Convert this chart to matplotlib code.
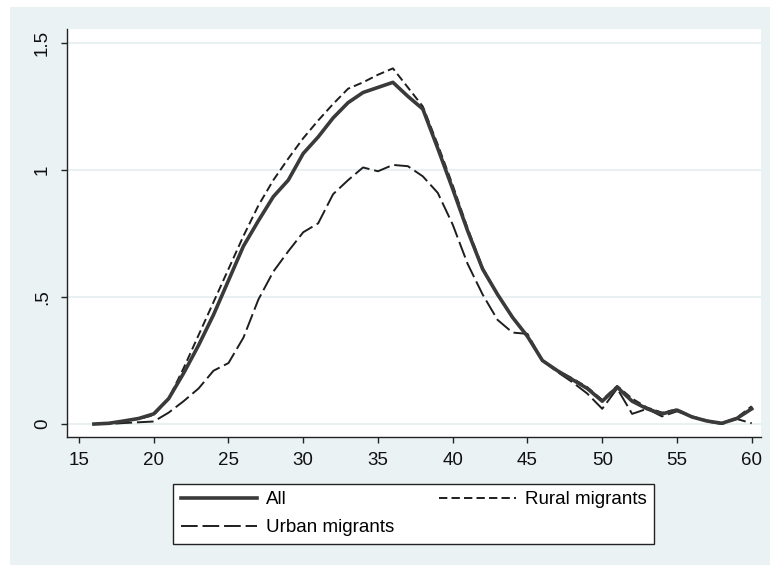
import matplotlib
matplotlib.use("Agg")
import matplotlib.pyplot as plt
from matplotlib.patches import Rectangle

plt.rcParams['font.family'] = ['Liberation Sans', 'DejaVu Sans']
plt.rcParams['lines.scale_dashes'] = False

# Age profile by migrant group
ages = list(range(16, 61))
all_migrants = [0.000, 0.003, 0.012, 0.022, 0.040,
                0.100, 0.200, 0.310, 0.430, 0.565,
                0.700, 0.800, 0.895, 0.960, 1.065,
                1.130, 1.205, 1.265, 1.305, 1.325,
                1.345, 1.290, 1.240, 1.085, 0.925,
                0.760, 0.610, 0.510, 0.420, 0.345,
                0.250, 0.210, 0.175, 0.140, 0.090,
                0.145, 0.090, 0.060, 0.040, 0.055,
                0.028, 0.012, 0.003, 0.022, 0.060]
rural_migrants = [0.000, 0.002, 0.012, 0.020, 0.035,
                  0.100, 0.220, 0.350, 0.480, 0.610,
                  0.740, 0.860, 0.960, 1.045, 1.125,
                  1.195, 1.260, 1.320, 1.345, 1.375,
                  1.400, 1.325, 1.250, 1.100, 0.940,
                  0.770, 0.615, 0.510, 0.420, 0.345,
                  0.250, 0.210, 0.180, 0.145, 0.095,
                  0.150, 0.100, 0.065, 0.045, 0.058,
                  0.030, 0.014, 0.003, 0.025, 0.070]
urban_migrants = [0.000, 0.000, 0.004, 0.007, 0.010,
                  0.045, 0.090, 0.140, 0.210, 0.240,
                  0.340, 0.490, 0.600, 0.680, 0.755,
                  0.790, 0.905, 0.960, 1.010, 0.995,
                  1.020, 1.015, 0.975, 0.910, 0.785,
                  0.630, 0.510, 0.410, 0.360, 0.355,
                  0.250, 0.205, 0.165, 0.120, 0.060,
                  0.140, 0.040, 0.060, 0.030, 0.050,
                  0.030, 0.010, 0.000, 0.020, 0.003]

x_ticks = [15, 20, 25, 30, 35, 40, 45, 50, 55, 60]
y_ticks = [0, 0.5, 1, 1.5]
y_tick_labels = ["0", ".5", "1", "1.5"]
series_labels = ["All", "Rural migrants", "Urban migrants"]

W, H = 770, 565
fig = plt.figure(figsize=(W / 100, H / 100), dpi=100, facecolor="white")

# graph region background
bg = "#EAF2F3"
fig.patches.append(Rectangle((10 / W, 0), 1 - 10 / W, 1 - 7 / H,
                             transform=fig.transFigure, facecolor=bg,
                             edgecolor="none", zorder=-10))

left, right, top, bottom = 67, 761, 29, 437
ax = fig.add_axes([left / W, 1 - bottom / H, (right - left) / W, (bottom - top) / H])
ax.set_zorder(1)
ax.set_facecolor("white")

for s in ["top", "right"]:
    ax.spines[s].set_visible(False)
for s in ["left", "bottom"]:
    ax.spines[s].set_color("#222222")
    ax.spines[s].set_linewidth(1.0)

ax.set_xlim(14.2, 60.62)
ax.set_ylim(-0.051, 1.555)

ax.set_yticks(y_ticks)
ax.set_yticklabels(y_tick_labels)
ax.set_xticks(x_ticks)
ax.grid(axis="y", color="#E6EFF0", linewidth=1.3, zorder=0)
ax.set_axisbelow(True)

ax.tick_params(axis="both", direction="out", length=4.5, width=1.0, color="#222222",
               labelsize=13.5, labelcolor="#111111")
ax.tick_params(axis="x", pad=6)
ax.tick_params(axis="y", pad=7, labelrotation=90)
for lab in ax.get_yticklabels():
    lab.set_va("center")

l_all, = ax.plot(ages, all_migrants, color="#3a3a3a", linewidth=2.6,
                 solid_joinstyle="round", zorder=3)
l_rur, = ax.plot(ages, rural_migrants, color="#1e1e1e", linewidth=1.4,
                 dashes=(6, 3), zorder=2)
l_urb, = ax.plot(ages, urban_migrants, color="#1e1e1e", linewidth=1.4,
                 dashes=(12, 3.5), zorder=2)

lx0, lx1, ly0, ly1 = 173, 654, 482, 544
leg = fig.legend([l_all, l_urb, l_rur],
                 [series_labels[0], series_labels[2], series_labels[1]],
                 ncol=2, mode="expand",
                 bbox_to_anchor=(lx0 / W, 1 - ly1 / H, (lx1 - lx0) / W, (ly1 - ly0) / H),
                 loc="lower left", fontsize=13.5, frameon=True, fancybox=False,
                 edgecolor="#222222", facecolor="white", framealpha=1,
                 handlelength=4.1, handletextpad=0.48, labelspacing=0.6,
                 borderpad=0.4, borderaxespad=0.0)
leg.get_frame().set_linewidth(1.0)

fig.savefig("out.png", dpi=100, facecolor=fig.get_facecolor())
